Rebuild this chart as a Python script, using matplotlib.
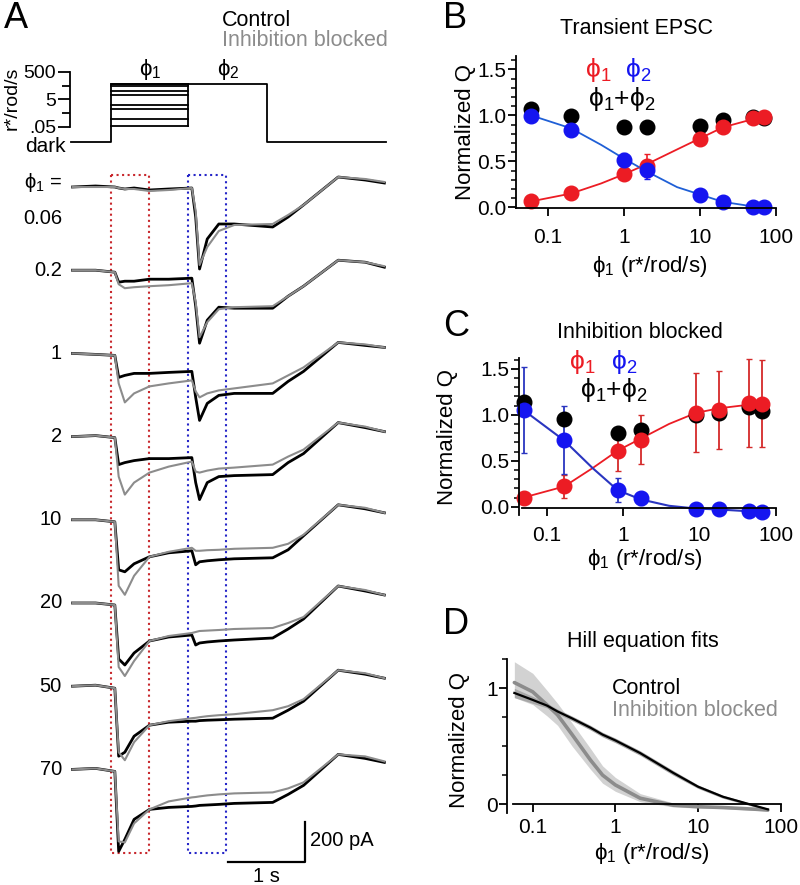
import numpy as np
import matplotlib
matplotlib.use("Agg")
import matplotlib.pyplot as plt
from matplotlib.ticker import FixedLocator, MultipleLocator, NullFormatter

plt.rcParams['font.family'] = ['Liberation Sans', 'DejaVu Sans']
plt.rcParams['axes.linewidth'] = 1.3

# ---------------- panel A data ----------------
# time grid (s) for trace waypoints, phi1 step starts at t=0
t_key = [-0.5, -0.2, 0.05, 0.1, 0.18, 0.3, 0.5, 0.75, 1.05, 1.1, 1.15, 1.25,
         1.4, 1.6, 2.1, 2.3, 2.5, 2.95, 3.3, 3.55]
phi1_levels = ['0.06', '0.2', '1', '2', '10', '20', '50', '70']
# currents (pA), black = control, gray = inhibition blocked
ctrl_traces = [
    [0, 5, 0, -5, -10, -5, -15, -10, -5, -150, -410, -260, -185, -185, -200, -150, -90, 50, 35, 20],
    [0, 0, -10, -60, -55, -55, -45, -45, -40, -180, -365, -250, -185, -190, -190, -130, -80, 50, 40, 15],
    [0, -5, -10, -120, -110, -100, -100, -95, -90, -220, -335, -250, -210, -200, -200, -140, -90, 55, 40, 30],
    [0, 5, -5, -140, -130, -120, -110, -110, -105, -230, -315, -230, -200, -195, -190, -130, -85, 70, 45, 25],
    [0, 0, -10, -250, -260, -220, -185, -165, -155, -225, -210, -205, -200, -195, -190, -150, -80, 75, 55, 35],
    [0, 0, -10, -280, -310, -250, -190, -170, -160, -210, -200, -195, -190, -185, -175, -130, -80, 85, 60, 40],
    [0, 5, -10, -350, -330, -250, -195, -180, -175, -175, -172, -170, -168, -165, -160, -120, -75, 80, 60, 40],
    [0, 5, -10, -410, -350, -250, -200, -190, -185, -183, -180, -178, -175, -170, -165, -125, -80, 75, 55, 35],
]
inhib_traces = [
    [0, 0, 0, -5, -10, -10, -20, -15, -5, -120, -390, -300, -220, -190, -185, -140, -90, 50, 40, 25],
    [0, 0, -10, -70, -90, -85, -80, -75, -65, -160, -335, -260, -195, -185, -180, -130, -80, 50, 40, 20],
    [0, -5, -10, -150, -245, -200, -165, -150, -135, -190, -220, -200, -185, -175, -150, -110, -70, 55, 45, 30],
    [0, 5, -5, -200, -290, -230, -180, -150, -125, -175, -180, -170, -160, -155, -140, -100, -65, 70, 50, 25],
    [0, 0, -10, -330, -375, -280, -185, -160, -140, -155, -155, -152, -150, -145, -140, -120, -75, 75, 60, 35],
    [0, 0, -10, -320, -365, -290, -190, -165, -150, -145, -140, -138, -135, -130, -125, -100, -70, 85, 65, 40],
    [0, 5, -10, -330, -370, -280, -195, -175, -160, -158, -155, -150, -145, -140, -120, -100, -65, 80, 65, 40],
    [0, 5, -10, -360, -365, -270, -200, -160, -140, -138, -135, -130, -125, -120, -115, -95, -65, 75, 65, 40],
]
trace_spacing = 416  # pA between traces

# stimulus (r*/rod/s)
stim_phi1 = [0.06, 0.2, 1, 2, 10, 20, 50, 70]
stim_phi2 = 70
stim_dark = 0.004
stim_times = [-0.52, 0.0, 1.0, 2.03, 3.57]

# ---------------- panel B data ----------------
x_B = [0.06, 0.2, 1, 2, 10, 20, 50, 70]
red_B = [0.065, 0.155, 0.36, 0.455, 0.745, 0.87, 0.975, 0.98]
red_B_err = [0.02, 0.05, 0.05, 0.12, 0.05, 0.03, 0.02, 0.02]
blue_B = [0.99, 0.84, 0.51, 0.41, 0.13, 0.06, 0.0, 0.0]
blue_B_err = [0.02, 0.05, 0.08, 0.1, 0.04, 0.02, 0.01, 0.01]
sum_B = [1.07, 0.99, 0.87, 0.87, 0.88, 0.945, 0.98, 0.975]
fit_x_B = [0.06, 0.2, 0.5, 1, 2, 5, 10, 20, 50, 70]
red_fit_B = [0.065, 0.15, 0.26, 0.36, 0.47, 0.63, 0.75, 0.87, 0.96, 0.98]
blue_fit_B = [1.0, 0.86, 0.68, 0.53, 0.39, 0.22, 0.14, 0.06, 0.01, 0.0]

# ---------------- panel C data ----------------
x_C = [0.05, 0.17, 0.85, 1.7, 9, 18, 45, 65]
red_C = [0.10, 0.22, 0.61, 0.73, 1.02, 1.05, 1.13, 1.12]
red_C_err = [0.03, 0.13, 0.22, 0.27, 0.43, 0.42, 0.48, 0.47]
blue_C = [1.05, 0.725, 0.18, 0.09, -0.02, -0.03, -0.05, -0.055]
blue_C_err = [0.47, 0.37, 0.13, 0.07, 0.01, 0.01, 0.01, 0.01]
sum_C = [1.14, 0.95, 0.80, 0.83, 1.0, 1.015, 1.08, 1.04]
fit_x_C = [0.05, 0.17, 0.4, 0.85, 1.7, 4, 9, 18, 45, 65]
red_fit_C = [0.10, 0.22, 0.42, 0.61, 0.74, 0.90, 1.02, 1.07, 1.11, 1.12]
blue_fit_C = [1.05, 0.72, 0.42, 0.18, 0.08, 0.01, -0.02, -0.03, -0.05, -0.055]

# ---------------- panel D data ----------------
x_D = [0.06, 0.1, 0.15, 0.2, 0.3, 0.5, 0.7, 1, 2, 5, 10, 20, 50, 70]
ctrl_fit = [0.96, 0.90, 0.85, 0.80, 0.74, 0.66, 0.60, 0.55, 0.44, 0.27, 0.15, 0.063, -0.017, -0.046]
ctrl_lo = [0.92, 0.87, 0.83, 0.78, 0.72, 0.64, 0.58, 0.53, 0.42, 0.25, 0.135, 0.05, -0.027, -0.055]
ctrl_hi = [1.00, 0.93, 0.87, 0.82, 0.76, 0.68, 0.62, 0.57, 0.46, 0.29, 0.165, 0.076, -0.007, -0.037]
inh_fit = [1.05, 0.97, 0.855, 0.77, 0.60, 0.38, 0.25, 0.165, 0.05, -0.01, -0.023, -0.03, -0.045, -0.052]
inh_lo = [0.92, 0.86, 0.76, 0.68, 0.50, 0.30, 0.18, 0.11, 0.02, -0.025, -0.035, -0.04, -0.055, -0.06]
inh_hi = [1.23, 1.13, 0.98, 0.87, 0.70, 0.48, 0.33, 0.23, 0.09, 0.01, -0.01, -0.02, -0.035, -0.044]

RED = '#ec1c24'
BLUE = '#1515f0'
GRAY = '#8c8c8c'
FS = 15
PHI1 = '\u03d5$\\mathregular{_1}$'
PHI2 = '\u03d5$\\mathregular{_2}$'
W, H = 800.0, 885.0

fig = plt.figure(figsize=(8, 8.85), dpi=100)


def fig_axes(left_px, top_px, right_px, bottom_px):
    return fig.add_axes([left_px / W, 1 - bottom_px / H,
                         (right_px - left_px) / W, (bottom_px - top_px) / H])


def ptext(x_px, y_px, s, **kw):
    # text placed by pixel position in the figure
    kw.setdefault('ha', 'center')
    kw.setdefault('va', 'center')
    return fig.text(x_px / W, 1 - y_px / H, s, **kw)


# ================= Panel A: traces =================
axT = fig_axes(71, 170, 386, 880)
axT.set_xlim(-0.519, 3.571)
axT.set_ylim(-3465, 85)
axT.axis('off')

# dotted analysis windows
box_top, box_bot = 60, -3330
for (ta, tb), col in [((0.0, 0.5), '#c8282d'), ((1.0, 1.5), '#2525c8')]:
    axT.plot([ta, ta, tb, tb, ta], [box_top, box_bot, box_bot, box_top, box_top],
             ls=':', color=col, lw=1.5)

for i, lab in enumerate(phi1_levels):
    off = -trace_spacing * i
    axT.plot(t_key, np.array(ctrl_traces[i]) + off, color='black', lw=2.0, solid_joinstyle='round')
    axT.plot(t_key, np.array(inhib_traces[i]) + off, color=GRAY, lw=1.5, solid_joinstyle='round')
    ly = off if i > 0 else off - 160
    axT.text(-0.636, ly, lab, ha='right', va='center', fontsize=14.5, clip_on=False)
ptext(62, 183, PHI1 + ' =', ha='right', fontsize=14.5)

# scale bar
axT.plot([1.52, 2.52, 2.52], [-3375, -3375, -3175], color='black', lw=1.6, clip_on=False)
ptext(310, 840, '200 pA', ha='left', fontsize=14.5)
ptext(266, 876, '1 s', fontsize=14.5)

# ================= Panel A: stimulus =================
axS = fig_axes(70, 61.3, 386, 143.8)
axS.set_xlim(-0.532, 3.571)
axS.set_yscale('log')
axS.set_ylim(0.003, 3000)
for s in ['top', 'right', 'bottom']:
    axS.spines[s].set_visible(False)
axS.spines['left'].set_bounds(0.05, 500)
axS.set_xticks([])
axS.yaxis.set_major_locator(FixedLocator([0.05, 5, 500]))
axS.set_yticklabels(['.05', '5', '500'])
axS.yaxis.set_minor_locator(FixedLocator([0.5, 50]))
axS.yaxis.set_minor_formatter(NullFormatter())
axS.tick_params(axis='y', which='major', length=9, width=1.3, labelsize=14, pad=1)
axS.tick_params(axis='y', which='minor', length=6, width=1.3)

t0, t_on, t_mid, t_off, t_end = stim_times
axS.plot([t0, t_on, t_on, t_off, t_off, t_end],
         [stim_dark, stim_dark, stim_phi2, stim_phi2, stim_dark, stim_dark],
         color='black', lw=1.3, clip_on=False)
for lev in stim_phi1:
    axS.plot([t_on, t_mid], [lev, lev], color='black', lw=1.3)
axS.plot([t_mid, t_mid], [min(stim_phi1), stim_phi2], color='black', lw=1.3)
ptext(66, 146, 'dark', ha='right', fontsize=15)
ptext(12, 98, 'r*/rod/s', rotation=90, fontsize=14)
ptext(150, 70, PHI1, fontsize=16)
ptext(228, 70, PHI2, fontsize=16)

ptext(222, 20, 'Control', ha='left', fontsize=15.5, color='black')
ptext(222, 41, 'Inhibition blocked', ha='left', fontsize=15.5, color=GRAY)


def style_q_axis(ax, minor, xpad):
    ax.set_xscale('log')
    for s in ['top', 'right']:
        ax.spines[s].set_visible(False)
    ax.xaxis.set_major_locator(FixedLocator([0.1, 1, 10, 100]))
    ax.set_xticklabels(['0.1', '1', '10', '100'])
    ax.xaxis.set_minor_locator(FixedLocator([]))
    ax.yaxis.set_minor_locator(MultipleLocator(minor))
    ax.yaxis.set_minor_formatter(NullFormatter())
    ax.tick_params(which='major', length=6, width=1.3, labelsize=FS, direction='out')
    ax.tick_params(axis='y', which='major', pad=1)
    ax.tick_params(axis='x', which='major', pad=xpad)
    ax.tick_params(which='minor', length=3.5, width=1.1, direction='out')


# ================= Panel B =================
axB = fig_axes(516, 55.6, 776, 208.3)
style_q_axis(axB, 0.1, 8)
axB.set_xlim(0.038, 100)
axB.set_ylim(-0.01, 1.65)
axB.set_yticks([0.0, 0.5, 1.0, 1.5])
axB.set_yticklabels(['0.0', '0.5', '1.0', '1.5'])
axB.plot(fit_x_B, red_fit_B, color=RED, lw=1.3)
axB.plot(fit_x_B, blue_fit_B, color='#1f5fd6', lw=1.3)
axB.errorbar(x_B, red_B, yerr=red_B_err, fmt='o', color=RED, ms=10.5, capsize=2.5, elinewidth=1.2, clip_on=False)
axB.errorbar(x_B, blue_B, yerr=blue_B_err, fmt='o', color=BLUE, ms=10.5, capsize=2.5, elinewidth=1.2, clip_on=False)
axB.plot(x_B, sum_B, 'o', color='black', ms=10.5, clip_on=False)
ptext(637, 29, 'Transient EPSC', fontsize=15.5)
ptext(465, 132, 'Normalized Q', rotation=90, fontsize=16)
ptext(650, 266, PHI1 + ' (r*/rod/s)', fontsize=16)
ptext(598, 70, PHI1, color=RED, fontsize=19)
ptext(638, 70, PHI2, color=BLUE, fontsize=19)
ptext(622, 99, PHI1 + '+' + PHI2, color='black', fontsize=19)

# ================= Panel C =================
axC = fig_axes(519.3, 357.7, 776, 515)
style_q_axis(axC, 0.1, 7)
axC.set_xlim(0.044, 100)
axC.set_ylim(-0.09, 1.62)
axC.set_yticks([0.0, 0.5, 1.0, 1.5])
axC.set_yticklabels(['0.0', '0.5', '1.0', '1.5'])
axC.spines['bottom'].set_position(('data', -0.015))
axC.spines['bottom'].set_bounds(0.048, 100)
axC.plot(fit_x_C, red_fit_C, color=RED, lw=1.3)
axC.plot(fit_x_C, blue_fit_C, color='#2a35c0', lw=1.5)
axC.errorbar(x_C, red_C, yerr=red_C_err, fmt='o', color=RED, ecolor='#d42a2a', ms=10.5, capsize=2.5,
             elinewidth=1.3, clip_on=False)
axC.errorbar(x_C, blue_C, yerr=blue_C_err, fmt='o', color=BLUE, ecolor='#2a35c0', ms=10.5, capsize=2.5,
             elinewidth=1.3, clip_on=False)
axC.plot(x_C, sum_C, 'o', color='black', ms=10.5, clip_on=False)
ptext(640, 332, 'Inhibition blocked', fontsize=15.5)
ptext(447, 437, 'Normalized Q', rotation=90, fontsize=16)
ptext(645, 559, PHI1 + ' (r*/rod/s)', fontsize=16)
ptext(582, 362, PHI1, color=RED, fontsize=19)
ptext(624, 362, PHI2, color=BLUE, fontsize=19)
ptext(614, 390, PHI1 + '+' + PHI2, color='black', fontsize=19)

# ================= Panel D =================
axD = fig_axes(507.3, 659.4, 780.7, 813.3)
style_q_axis(axD, 0.25, 4)
axD.set_xlim(0.0493, 100)
axD.set_ylim(-0.08, 1.25)
axD.set_yticks([0, 1])
axD.set_yticklabels(['0', '1'])
axD.spines['bottom'].set_position(('data', 0))
axD.spines['bottom'].set_bounds(0.057, 100)
axD.fill_between(x_D, inh_lo, inh_hi, color='#d2d2d2', lw=0)
axD.fill_between(x_D, ctrl_lo, ctrl_hi, color='#a8a8a8', lw=0)
axD.plot(x_D, inh_fit, color=GRAY, lw=2.6, solid_capstyle='round')
axD.plot(x_D, ctrl_fit, color='black', lw=1.6)
ptext(643, 642, 'Hill equation fits', fontsize=15.5)
ptext(460, 740, 'Normalized Q', rotation=90, fontsize=16)
ptext(652, 853, PHI1 + ' (r*/rod/s)', fontsize=16)
ptext(612, 688, 'Control', ha='left', color='black', fontsize=15.5)
ptext(612, 710, 'Inhibition blocked', ha='left', color=GRAY, fontsize=15.5)

# panel letters
for lab, xp, yp in [('A', 4, 18), ('B', 443, 18), ('C', 443, 326), ('D', 443, 624)]:
    ptext(xp, yp, lab, ha='left', fontsize=26)

fig.savefig('out.png', dpi=100)
